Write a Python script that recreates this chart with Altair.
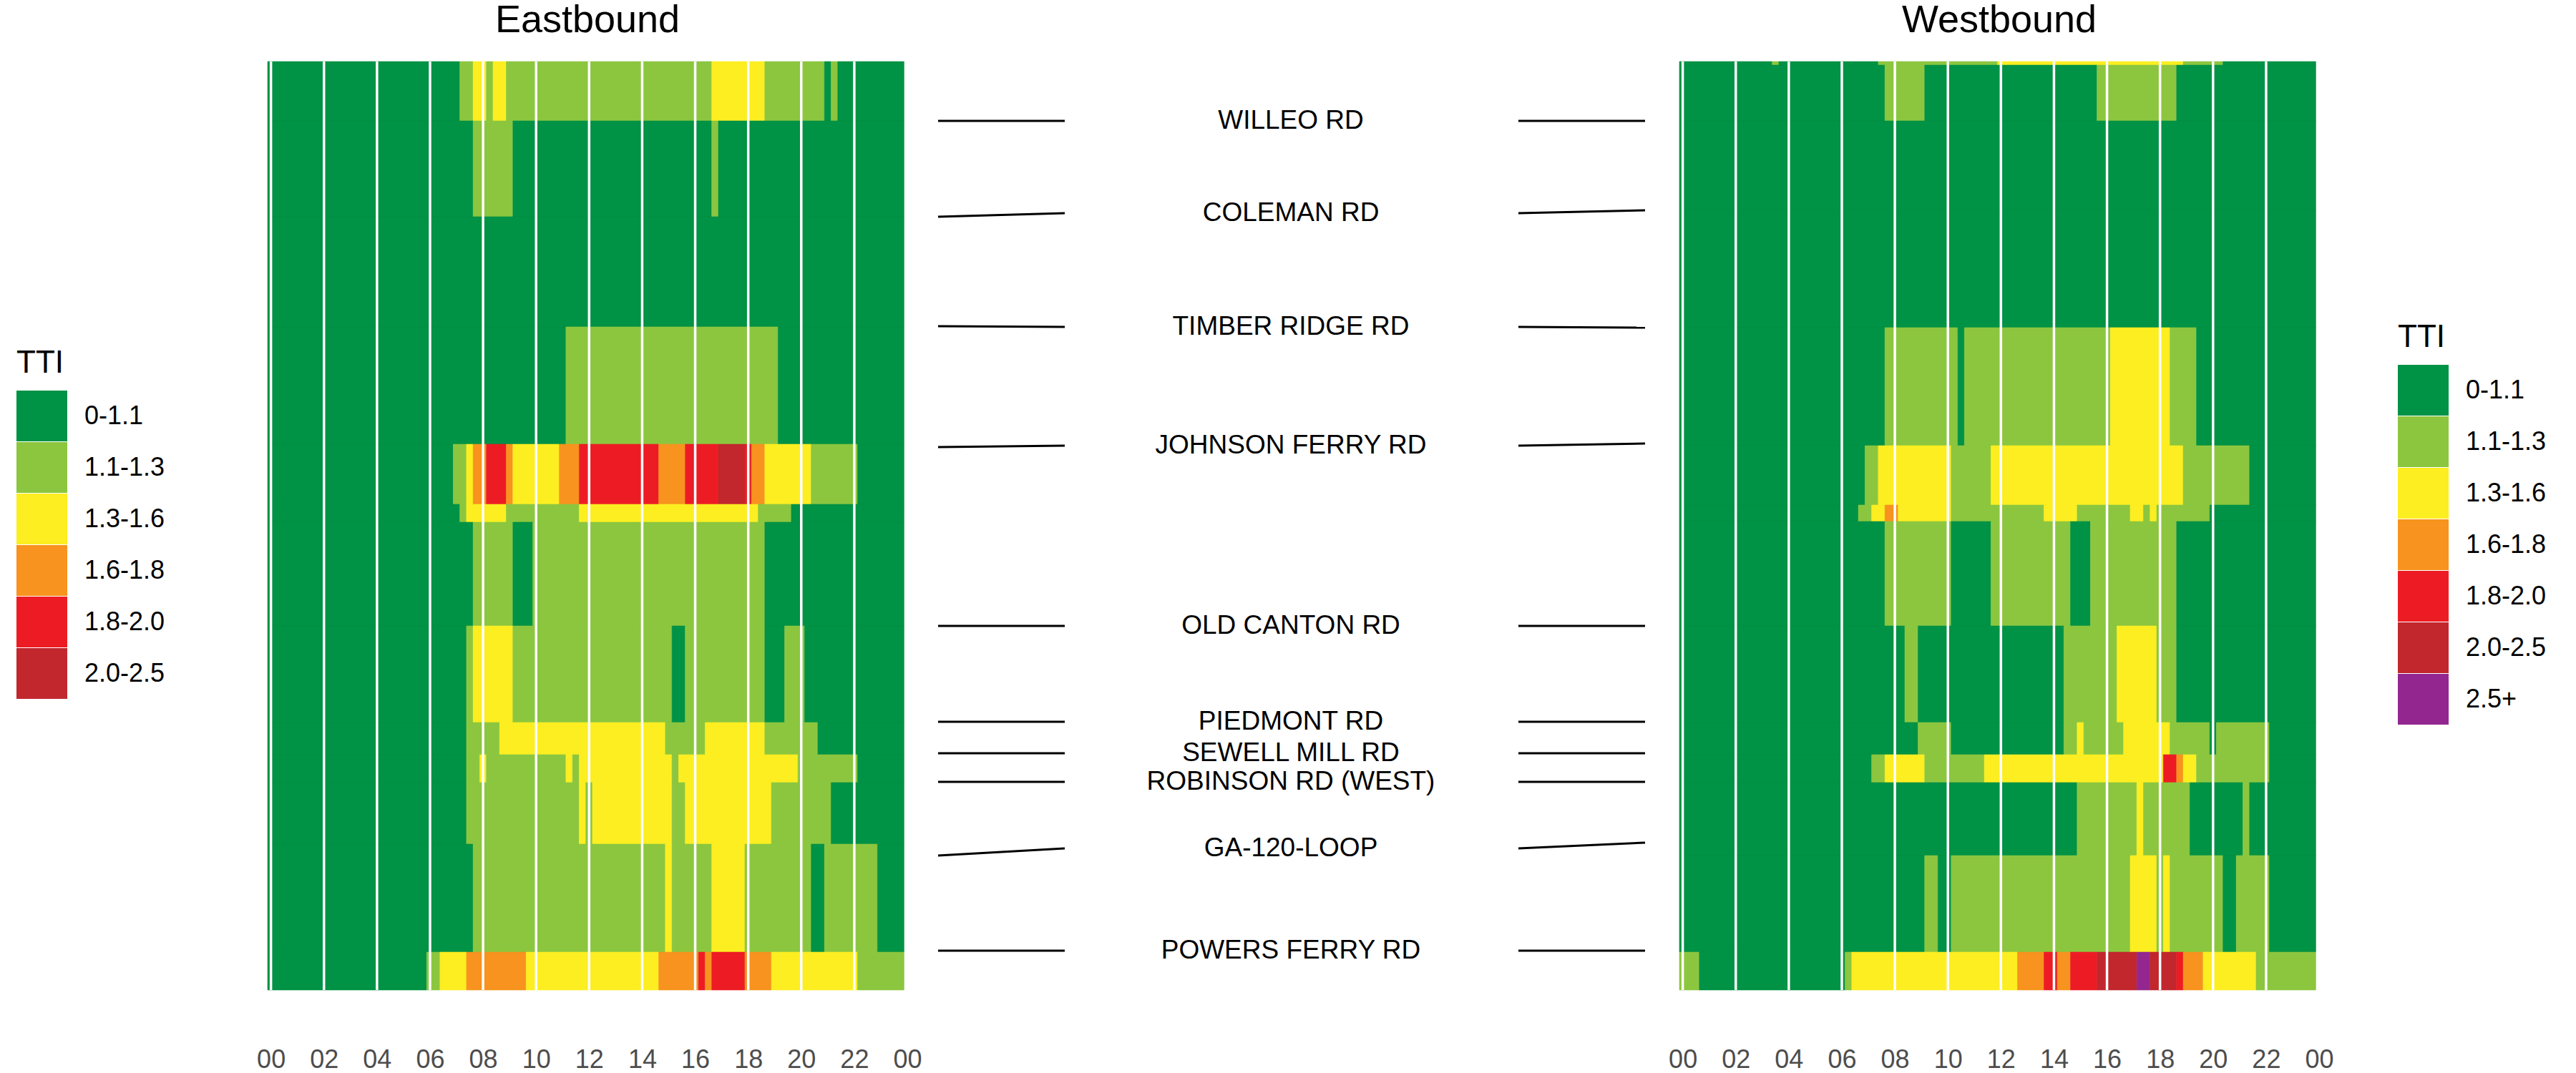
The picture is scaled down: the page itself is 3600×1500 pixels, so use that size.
import altair as alt
import pandas as pd

# ---------------- data ----------------
TTI_CLASSES = ["0-1.1", "1.1-1.3", "1.3-1.6", "1.6-1.8", "1.8-2.0", "2.0-2.5", "2.5+"]
TTI_COLORS = ["#009245", "#8cc63f", "#fcee21", "#f7931e", "#ed1c24", "#c1272d", "#93278f"]

BIN_HOURS = 0.25      # 15-minute bins, tile centred on bin start
N_BINS = 96

# segment boundaries along the corridor (0 = Willeo Rd end, top of the panel)
EB_BOUNDS = [0, 0.83, 2.17, 3.71, 5.35, 6.19, 6.44, 7.89, 9.24, 9.69, 10.08, 10.94, 12.45, 12.98]
WB_BOUNDS = [0, 0.05, 0.83, 2.08, 3.72, 5.37, 6.20, 6.43, 7.89, 9.24, 9.69, 10.08, 11.10, 12.45, 12.98]

# each segment: list of (first 15-min bin, TTI class index) runs
EB_RUNS = [
    [(0, 0), (29, 1), (31, 2), (33, 1), (34, 2), (36, 1), (67, 2), (75, 1), (84, 0), (85, 1), (86, 0)],
    [(0, 0), (31, 1), (37, 0), (67, 1), (68, 0)],
    [(0, 0)],
    [(0, 0), (45, 1), (77, 0)],
    [(0, 0), (28, 1), (30, 2), (31, 3), (33, 4), (36, 3), (37, 2), (44, 3), (47, 4), (59, 3), (63, 4),
     (68, 5), (72, 4), (73, 3), (75, 2), (82, 1), (89, 0)],
    [(0, 0), (29, 1), (30, 2), (36, 1), (47, 2), (74, 1), (79, 0)],
    [(0, 0), (31, 1), (37, 0), (40, 1), (75, 0)],
    [(0, 0), (30, 1), (31, 2), (37, 1), (61, 0), (63, 1), (75, 0), (78, 1), (81, 0)],
    [(0, 0), (30, 1), (35, 2), (60, 1), (66, 2), (75, 1), (83, 0)],
    [(0, 0), (30, 1), (32, 2), (33, 1), (45, 2), (46, 1), (47, 2), (61, 1), (62, 2), (80, 1), (89, 0)],
    [(0, 0), (30, 1), (47, 2), (48, 1), (49, 2), (61, 1), (63, 2), (76, 1), (85, 0)],
    [(0, 0), (31, 1), (60, 2), (61, 1), (67, 2), (72, 1), (82, 0), (84, 1), (92, 0)],
    [(0, 0), (24, 1), (26, 2), (30, 3), (39, 2), (59, 3), (65, 4), (66, 3), (67, 4), (72, 3), (76, 2), (89, 1)],
]

WB_RUNS = [
    [(0, 0), (14, 1), (15, 0), (30, 1), (48, 2), (76, 1), (82, 0)],
    [(0, 0), (31, 1), (37, 0), (63, 1), (75, 0)],
    [(0, 0)],
    [(0, 0)],
    [(0, 0), (31, 1), (42, 0), (43, 1), (65, 2), (74, 1), (78, 0)],
    [(0, 0), (28, 1), (30, 2), (41, 1), (47, 2), (76, 1), (86, 0)],
    [(0, 0), (27, 1), (29, 2), (31, 3), (33, 2), (41, 1), (55, 2), (60, 1), (68, 2), (70, 1), (71, 2),
     (72, 1), (80, 0)],
    [(0, 0), (31, 1), (41, 0), (47, 1), (59, 0), (62, 1), (75, 0)],
    [(0, 0), (34, 1), (36, 0), (58, 1), (66, 2), (72, 1), (75, 0)],
    [(0, 0), (36, 1), (41, 0), (58, 1), (60, 2), (61, 1), (67, 2), (74, 1), (80, 0), (81, 1), (89, 0)],
    [(0, 0), (29, 1), (31, 2), (37, 1), (46, 2), (73, 4), (75, 3), (76, 2), (78, 1), (89, 0)],
    [(0, 0), (60, 1), (69, 2), (70, 1), (77, 0), (85, 1), (86, 0)],
    [(0, 0), (37, 1), (39, 0), (41, 1), (68, 2), (72, 1), (73, 2), (74, 1), (82, 0), (84, 1), (89, 0)],
    [(0, 1), (3, 0), (25, 1), (26, 2), (51, 3), (55, 4), (57, 3), (59, 4), (63, 5), (69, 6), (71, 5),
     (75, 4), (76, 3), (79, 2), (87, 1)],
]

ROADS = ["WILLEO RD", "COLEMAN RD", "TIMBER RIDGE RD", "JOHNSON FERRY RD", "OLD CANTON RD",
         "PIEDMONT RD", "SEWELL MILL RD", "ROBINSON RD (WEST)", "GA-120-LOOP", "POWERS FERRY RD"]
ROAD_EB = [0.83, 2.17, 3.70, 5.39, 7.89, 9.23, 9.67, 10.07, 11.10, 12.43]
ROAD_LABEL = [0.83, 2.12, 3.71, 5.37, 7.89, 9.23, 9.67, 10.07, 11.00, 12.43]
ROAD_WB = [0.83, 2.08, 3.72, 5.34, 7.89, 9.23, 9.67, 10.07, 10.92, 12.43]

HOUR_TICKS = list(range(0, 25, 2))
GRID_HOURS = list(range(0, 24, 2))


def runs_to_frame(bounds, runs):
    recs = []
    for r, row in enumerate(runs):
        for k, (start, cls) in enumerate(row):
            end = row[k + 1][0] if k + 1 < len(row) else N_BINS
            recs.append({
                "t0": (start - 0.5) * BIN_HOURS,
                "t1": (end - 0.5) * BIN_HOURS,
                "d0": bounds[r],
                "d1": bounds[r + 1],
                "tti": TTI_CLASSES[cls],
            })
    return pd.DataFrame(recs)


eb_df = runs_to_frame(EB_BOUNDS, EB_RUNS)
wb_df = runs_to_frame(WB_BOUNDS, WB_RUNS)
grid_df = pd.DataFrame({"h": GRID_HOURS})
lab_df = pd.DataFrame({"road": ROADS, "eb": ROAD_EB, "lab": ROAD_LABEL, "wb": ROAD_WB})

# ---------------- layout ----------------
FONT = "Liberation Sans"
PW, PH = 894, 1298
CW = 1079
X_DOMAIN = [-0.125, 24]
Y_DOMAIN = [0, 12.98]


def yscale():
    return alt.Scale(domain=Y_DOMAIN, reverse=True, nice=False, zero=False)


def xaxis():
    return alt.Axis(
        values=HOUR_TICKS, title=None, ticks=False, tickSize=0, domain=False, grid=False,
        labelExpr="(datum.value % 24 < 10 ? '0' : '') + (datum.value % 24)",
        labelFontSize=36, labelFont=FONT, labelColor="#4d4d4d", labelPadding=80,
        labelOverlap=False, labelFlush=False,
    )


def heat_panel(df, title, n_classes, legend_x, legend_y):
    xs = alt.Scale(domain=X_DOMAIN, nice=False, zero=False)
    cscale = alt.Scale(domain=TTI_CLASSES[:n_classes], range=TTI_COLORS[:n_classes])
    legend = alt.Legend(
        title="TTI", orient="none", legendX=legend_x, legendY=legend_y,
        titleFontSize=44, titleFontWeight="normal", titleFont=FONT, titleColor="black",
        titlePadding=16, labelFontSize=36, labelFont=FONT, labelColor="black",
        labelOffset=24, symbolType="square", symbolSize=5041, symbolStrokeWidth=0,
        symbolOpacity=1, rowPadding=1,
    )
    rect = alt.Chart(df).mark_rect(strokeWidth=0.6).encode(
        x=alt.X("t0:Q", scale=xs, axis=xaxis()),
        x2="t1:Q",
        y=alt.Y("d0:Q", scale=yscale(), axis=None),
        y2="d1:Q",
        color=alt.Color("tti:N", scale=cscale, legend=legend),
        stroke=alt.Stroke("tti:N", scale=cscale, legend=None),
    )
    grid = alt.Chart(grid_df).mark_rule(color="white", strokeWidth=3.5).encode(
        x=alt.X("h:Q", scale=xs, axis=xaxis()),
        y=alt.value(0),
        y2=alt.value(PH),
    )
    return alt.layer(rect, grid).properties(
        width=PW, height=PH,
        title=alt.TitleParams(text=title, fontSize=54, fontWeight="normal", font=FONT,
                              color="black", anchor="middle", offset=28),
    )


east = heat_panel(eb_df, "Eastbound", 6, -351, 400)
west = heat_panel(wb_df, "Westbound", 7, 1004, 364)

base = alt.Chart(lab_df)
left_lines = base.mark_rule(color="black", strokeWidth=3).encode(
    x=alt.value(43), x2=alt.value(220),
    y=alt.Y("eb:Q", scale=yscale(), axis=None), y2="lab:Q",
)
right_lines = base.mark_rule(color="black", strokeWidth=3).encode(
    x=alt.value(854), x2=alt.value(1031),
    y=alt.Y("lab:Q", scale=yscale(), axis=None), y2="wb:Q",
)
names = base.mark_text(fontSize=37, font=FONT, color="black", align="center", baseline="middle").encode(
    x=alt.value(536),
    y=alt.Y("lab:Q", scale=yscale(), axis=None),
    text="road:N",
)
center = alt.layer(left_lines, right_lines, names).properties(width=CW, height=PH)

chart = alt.hconcat(
    east, center, west, spacing=0, bounds="flush",
    padding={"left": 23, "top": 2, "right": 10, "bottom": 5},
    background="white",
).resolve_scale(
    color="independent", stroke="independent", x="independent", y="independent"
).configure_view(strokeWidth=0)

chart.save("out.html", embed_options={"renderer": "svg", "actions": False})
